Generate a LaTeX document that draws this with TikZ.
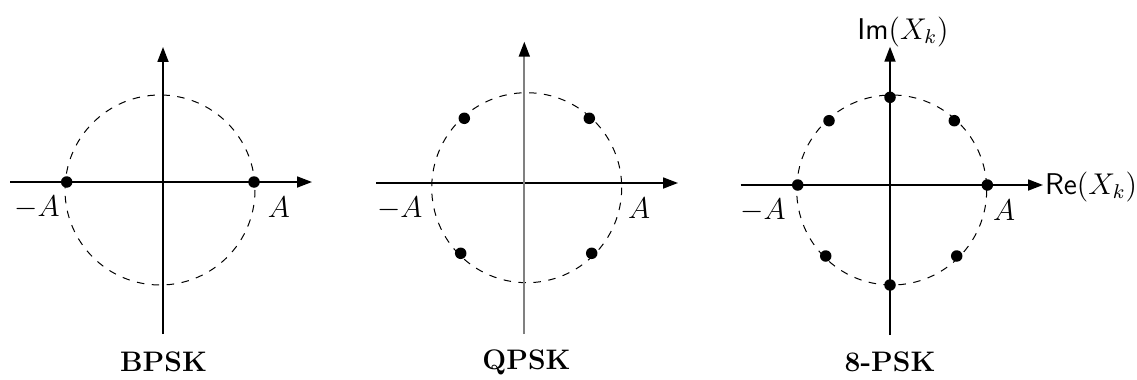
\documentclass[tikz,border=0pt]{standalone}
\usetikzlibrary{arrows.meta}
\begin{document}
\begin{tikzpicture}[x=0.4pt,y=-0.4pt,
  axis/.style={line width=0.7pt,-{Triangle[length=6pt,width=4.4pt]}},
  greyaxis/.style={line width=0.7pt,gray,-{Triangle[length=6pt,width=4.4pt,color=black,fill=black]}},
  ring/.style={dashed,line width=0.4pt},
  dot/.style={fill=black},
  lbl/.style={inner sep=0pt,font=\fontsize{11.5}{13}\selectfont},
  title/.style={inner sep=0pt,font=\fontsize{11.3}{13}\selectfont\bfseries}]
\useasboundingbox (0,0) rectangle (1137,379);
% ---------- BPSK ----------
\coordinate (b-l) at (10,182);
\coordinate (b-r) at (312,182);
\coordinate (b-b) at (163,334);
\coordinate (b-t) at (163,47);
\draw[ring] (160,190) circle (95);
\draw[axis] (b-l) -- (b-r);
\draw[axis] (b-b) -- (b-t);
\fill[dot] (66.7,182) circle[radius=2.3pt];
\fill[dot] (254,182) circle[radius=2.3pt];
\node[lbl] (b-ma) at (37,207) {$-A$};
\node[lbl] (b-a) at (279,207) {$A$};
\node[title] (b-title) at (163.5,362) {BPSK};
% ---------- QPSK ----------
\coordinate (q-l) at (376,183);
\coordinate (q-r) at (678,183);
\coordinate (q-b) at (524.3,334);
\coordinate (q-t) at (524.3,41.7);
\draw[ring] (526.7,187.7) circle (95);
\draw[axis] (q-l) -- (q-r);
\draw[greyaxis] (q-b) -- (q-t);
\fill[dot] (464.3,118.3) circle[radius=2.3pt];
\fill[dot] (589.3,118.3) circle[radius=2.3pt];
\fill[dot] (460.7,253.3) circle[radius=2.3pt];
\fill[dot] (591.7,253.3) circle[radius=2.3pt];
\node[lbl] (q-ma) at (399.7,208.3) {$-A$};
\node[lbl] (q-a) at (639,208) {$A$};
\node[title] (q-title) at (526.5,362) {QPSK};
% ---------- 8-PSK ----------
\coordinate (p-l) at (740.7,185);
\coordinate (p-r) at (1043,185);
\coordinate (p-b) at (890,335);
\coordinate (p-t) at (890,46.7);
\draw[ring] (891.7,190) circle (95);
\draw[axis] (p-l) -- (p-r);
\draw[axis] (p-b) -- (p-t);
\fill[dot] (890,97.3) circle[radius=2.3pt];
\fill[dot] (890,285) circle[radius=2.3pt];
\fill[dot] (797.7,185) circle[radius=2.3pt];
\fill[dot] (987.3,185) circle[radius=2.3pt];
\fill[dot] (829,120.7) circle[radius=2.3pt];
\fill[dot] (954.3,120.7) circle[radius=2.3pt];
\fill[dot] (825.7,256) circle[radius=2.3pt];
\fill[dot] (956.7,256) circle[radius=2.3pt];
\node[lbl] (p-ma) at (763,210) {$-A$};
\node[lbl] (p-a) at (1004,210) {$A$};
\node[lbl] (p-im) at (903,31.7) {$\mathsf{Im}(X_k)$};
\node[lbl] (p-re) at (1091,186.7) {$\mathsf{Re}(X_k)$};
\node[title] (p-title) at (890,362) {8-PSK};
\end{tikzpicture}
\end{document}
